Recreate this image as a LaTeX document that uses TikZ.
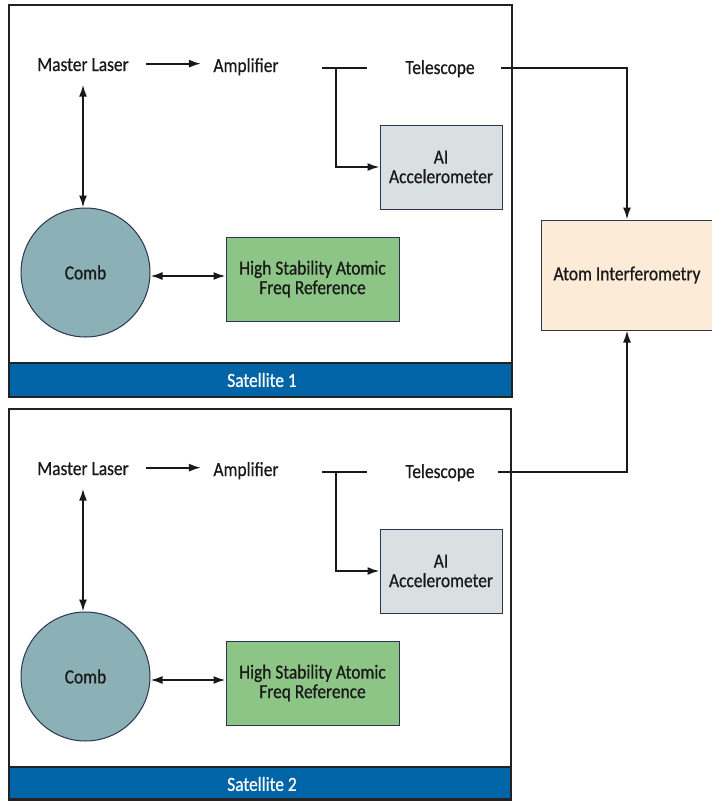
\documentclass[tikz,border=0pt]{standalone}
\usepackage{fontspec}
\setmainfont[FakeStretch=0.87,FakeBold=0.6]{Carlito}
\usetikzlibrary{arrows.meta}
\definecolor{satblue}{HTML}{0064A6}
\definecolor{boxedge}{HTML}{2B3550}
\definecolor{aicol}{HTML}{D8E0E2}
\definecolor{combcol}{HTML}{8BB0B5}
\definecolor{hscol}{HTML}{8CC585}
\definecolor{atomcol}{HTML}{FCEBD6}
\definecolor{framecol}{HTML}{222222}
\begin{document}
\begin{tikzpicture}[x=1pt,y=-1pt,
  lbl/.style={font=\fontsize{20}{21.5}\selectfont, text=black!90, align=center},
  framebox/.style={draw=framecol, line width=2.5pt},
  barbox/.style={fill=satblue, draw=framecol, line width=2.5pt},
  conn/.style={line width=1.8pt, draw=black!90},
  arr/.style={conn, -{Latex[length=12pt,width=8pt]}},
  darr/.style={conn, {Latex[length=12pt,width=8pt]}-{Latex[length=12pt,width=8pt]}},
  blk/.style={lbl, draw=boxedge, line width=1pt, inner sep=2pt},
  satlbl/.style={font=\fontsize{20}{21.5}\selectfont, text=white}
]
\useasboundingbox (0,0) rectangle (712,801);

% Atom interferometry box
\node[blk, fill=atomcol, minimum width=172pt, minimum height=110pt] (atom) at (627,275) {Atom Interferometry};

\foreach \o/\n/\r/\b in {0/1/512/397, 404/2/511/799.5}{
  % satellite frame
  \fill[white] (9,5+\o) rectangle (\r,\b);
  \draw[barbox] (9,363+\o) rectangle (\r,\b);
  \draw[framebox] (9,5+\o) rectangle (\r,\b);
  \node[satlbl] (sl\n) at (262,380+\o) {Satellite \n};

  % text nodes
  \node[lbl, anchor=base] (ml\n) at (83,71+\o) {Master Laser};
  \node[lbl, anchor=base] (amp\n) at (246,72+\o) {Amplifier};
  \node[lbl, anchor=base] (tel\n) at (440,74+\o) {Telescope};

  % boxes
  \node[blk, fill=aicol, minimum width=122pt, minimum height=84pt] (ai\n) at (441,167+\o) {AI\\[-2pt]Accelerometer};
  \node[lbl, circle, draw=boxedge, line width=1pt, fill=combcol, minimum size=129pt] (comb\n) at (85.5,272.5+\o) {Comb};
  \node[blk, fill=hscol, minimum width=173pt, minimum height=84pt] (hs\n) at (312.5,279+\o) {High Stability Atomic\\[-2pt]Freq Reference};

  % junction coordinates
  \coordinate (ja\n) at (322,68+\o);
  \coordinate (jb\n) at (367,68+\o);
  \coordinate (jc\n) at (336,68+\o);
  \coordinate (ms\n) at ([xshift=14pt,yshift=1pt]ml\n.east);
  \coordinate (ae\n) at ([xshift=-9pt]amp\n.west);

  % connectors
  \draw[arr] (ms\n) -- (ms\n -| ae\n);
  \draw[conn] (ja\n) -- (jb\n);
  \draw[arr] (jc\n) |- (ai\n.west);
  \draw[darr] ([yshift=-10pt]ml\n.south) -- (ml\n.south |- comb\n.north);
  \draw[darr] ([yshift=-3.5pt]comb\n.east) -- ([yshift=-3.5pt]comb\n.east -| hs\n.west);
}

\coordinate (te1) at (501,68);
\coordinate (te2) at (498,472);
\draw[arr] (te1) -| (atom.north);
\draw[arr] (te2) -| (atom.south);
\end{tikzpicture}
\end{document}
